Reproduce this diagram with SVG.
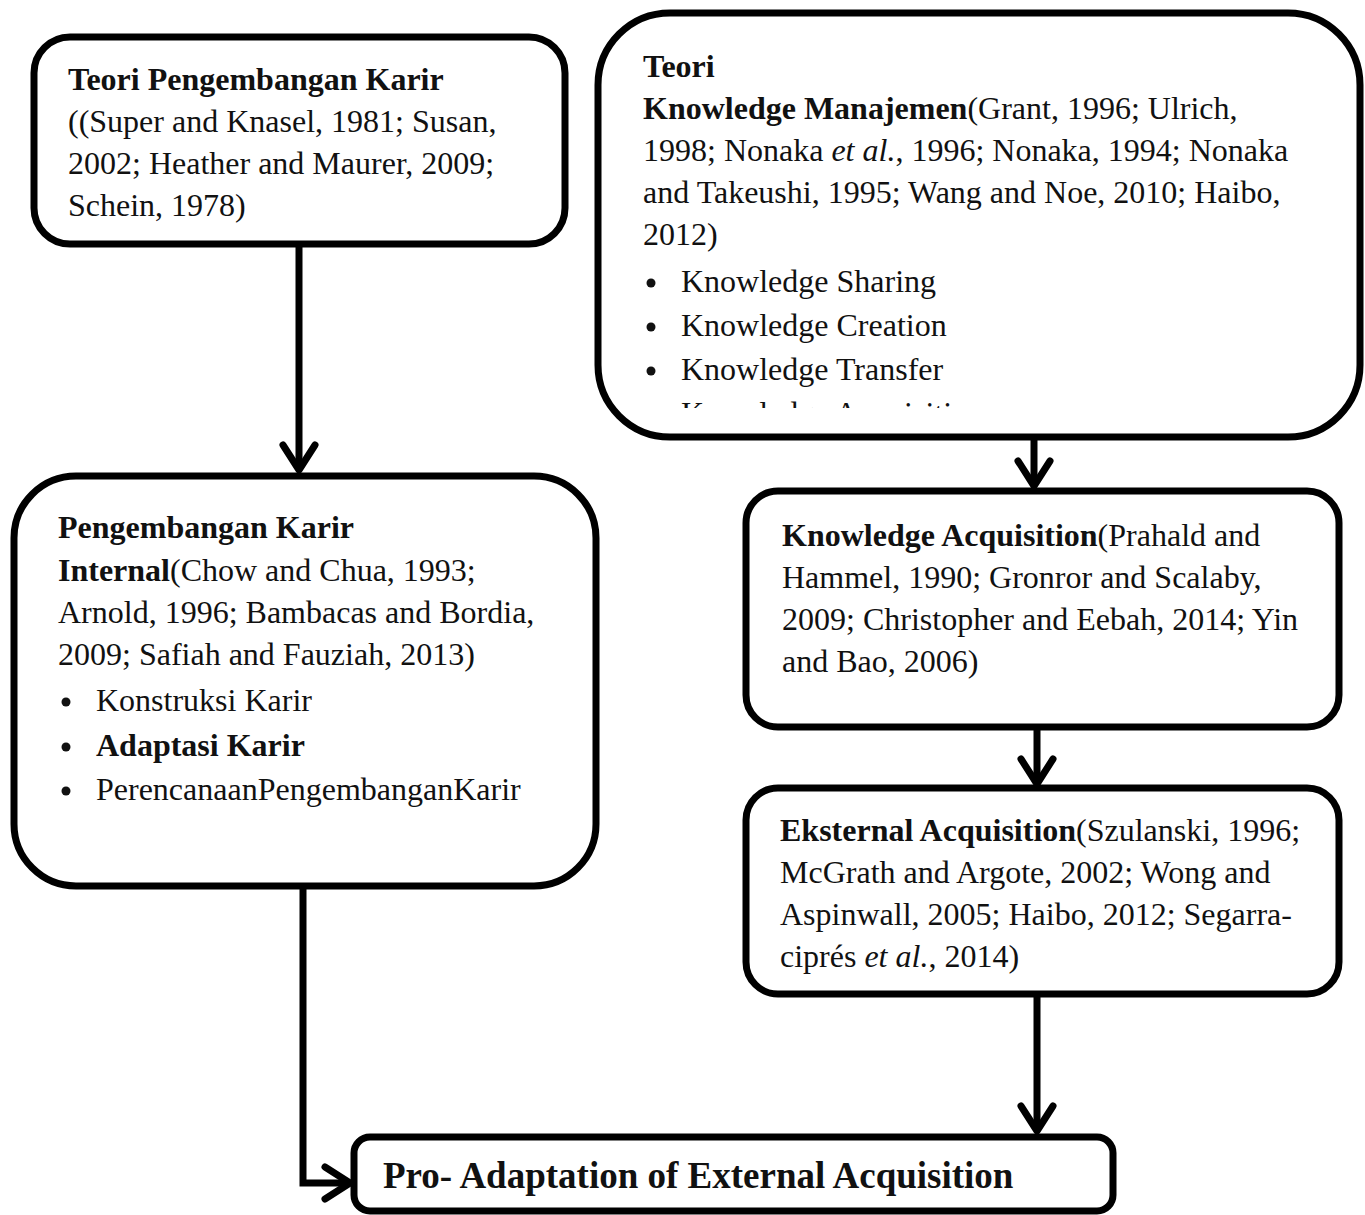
<svg xmlns="http://www.w3.org/2000/svg" width="1365" height="1215" viewBox="0 0 1365 1215">
<defs>
<style>
.box{fill:#fff;stroke:#000;stroke-width:7}
.conn{fill:none;stroke:#000;stroke-width:7}
text{font-family:"Liberation Serif","Times New Roman",serif;font-size:32px;fill:#111}
.b{font-weight:bold}
.i{font-style:italic}
.dot{fill:#111}
</style>
<marker id="chev" viewBox="-34 -24 40 48" markerWidth="40" markerHeight="48" refX="0" refY="0" orient="auto" markerUnits="userSpaceOnUse">
<path d="M-25,-16 L0,0 L-25,16" fill="none" stroke="#000" stroke-width="7" stroke-linecap="round" stroke-linejoin="round"/>
</marker>
<clipPath id="clip2"><rect x="600" y="399" width="700" height="9"/></clipPath>
</defs>
<rect width="1365" height="1215" fill="#fff"/>

<g id="connectors">
<path class="conn" d="M299,245 L299,470" marker-end="url(#chev)"/>
<path class="conn" d="M1034,438 L1034,486" marker-end="url(#chev)"/>
<path class="conn" d="M1037,728 L1037,784" marker-end="url(#chev)"/>
<path class="conn" d="M1037,995 L1037,1131" marker-end="url(#chev)"/>
<path class="conn" d="M303,887 L303,1183 L350,1183" marker-end="url(#chev)"/>
</g>

<g id="node-teori-karir">
<rect class="box" x="34" y="37" width="531" height="207" rx="36"/>
<text x="68" y="90" class="b">Teori Pengembangan Karir</text>
<text x="68" y="132">((Super and Knasel, 1981; Susan,</text>
<text x="68" y="174">2002; Heather and Maurer, 2009;</text>
<text x="68" y="216">Schein, 1978)</text>
</g>

<g id="node-teori-km">
<rect class="box" x="598" y="13" width="762" height="424" rx="72"/>
<text x="643" y="77" class="b">Teori</text>
<text x="643" y="119"><tspan class="b">Knowledge Manajemen</tspan>(Grant, 1996; Ulrich,</text>
<text x="643" y="161">1998; Nonaka <tspan class="i">et al.</tspan>, 1996; Nonaka, 1994; Nonaka</text>
<text x="643" y="203">and Takeushi, 1995; Wang and Noe, 2010; Haibo,</text>
<text x="643" y="245">2012)</text>
<circle class="dot" cx="651" cy="283" r="4.5"/>
<text x="681" y="292">Knowledge Sharing</text>
<circle class="dot" cx="651" cy="327" r="4.5"/>
<text x="681" y="336">Knowledge Creation</text>
<circle class="dot" cx="651" cy="371" r="4.5"/>
<text x="681" y="380">Knowledge Transfer</text>
<g clip-path="url(#clip2)">
<text x="681" y="424">Knowledge Acquisition</text>
</g>
</g>

<g id="node-karir-internal">
<rect class="box" x="14" y="476" width="582" height="410" rx="62"/>
<text x="58" y="538" class="b">Pengembangan Karir</text>
<text x="58" y="581"><tspan class="b">Internal</tspan>(Chow and Chua, 1993;</text>
<text x="58" y="623">Arnold, 1996; Bambacas and Bordia,</text>
<text x="58" y="665">2009; Safiah and Fauziah, 2013)</text>
<circle class="dot" cx="66" cy="702" r="4.5"/>
<text x="96" y="711">Konstruksi Karir</text>
<circle class="dot" cx="66" cy="747" r="4.5"/>
<text x="96" y="756" class="b">Adaptasi Karir</text>
<circle class="dot" cx="66" cy="791" r="4.5"/>
<text x="96" y="800">PerencanaanPengembanganKarir</text>
</g>

<g id="node-knowledge-acq">
<rect class="box" x="746" y="491" width="593" height="236" rx="32"/>
<text x="782" y="546"><tspan class="b">Knowledge Acquisition</tspan>(Prahald and</text>
<text x="782" y="588">Hammel, 1990; Gronror and Scalaby,</text>
<text x="782" y="630">2009; Christopher and Eebah, 2014; Yin</text>
<text x="782" y="672">and Bao, 2006)</text>
</g>

<g id="node-eksternal-acq">
<rect class="box" x="746" y="788" width="593" height="206" rx="32"/>
<text x="780" y="841"><tspan class="b">Eksternal Acquisition</tspan>(Szulanski, 1996;</text>
<text x="780" y="883">McGrath and Argote, 2002; Wong and</text>
<text x="780" y="925">Aspinwall, 2005; Haibo, 2012; Segarra-</text>
<text x="780" y="967">ciprés <tspan class="i">et al.</tspan>, 2014)</text>
</g>

<g id="node-pro-adaptation">
<rect class="box" x="354" y="1137" width="759" height="74" rx="16"/>
<text x="383" y="1188" class="b" style="font-size:37px">Pro- Adaptation of External Acquisition</text>
</g>
</svg>
